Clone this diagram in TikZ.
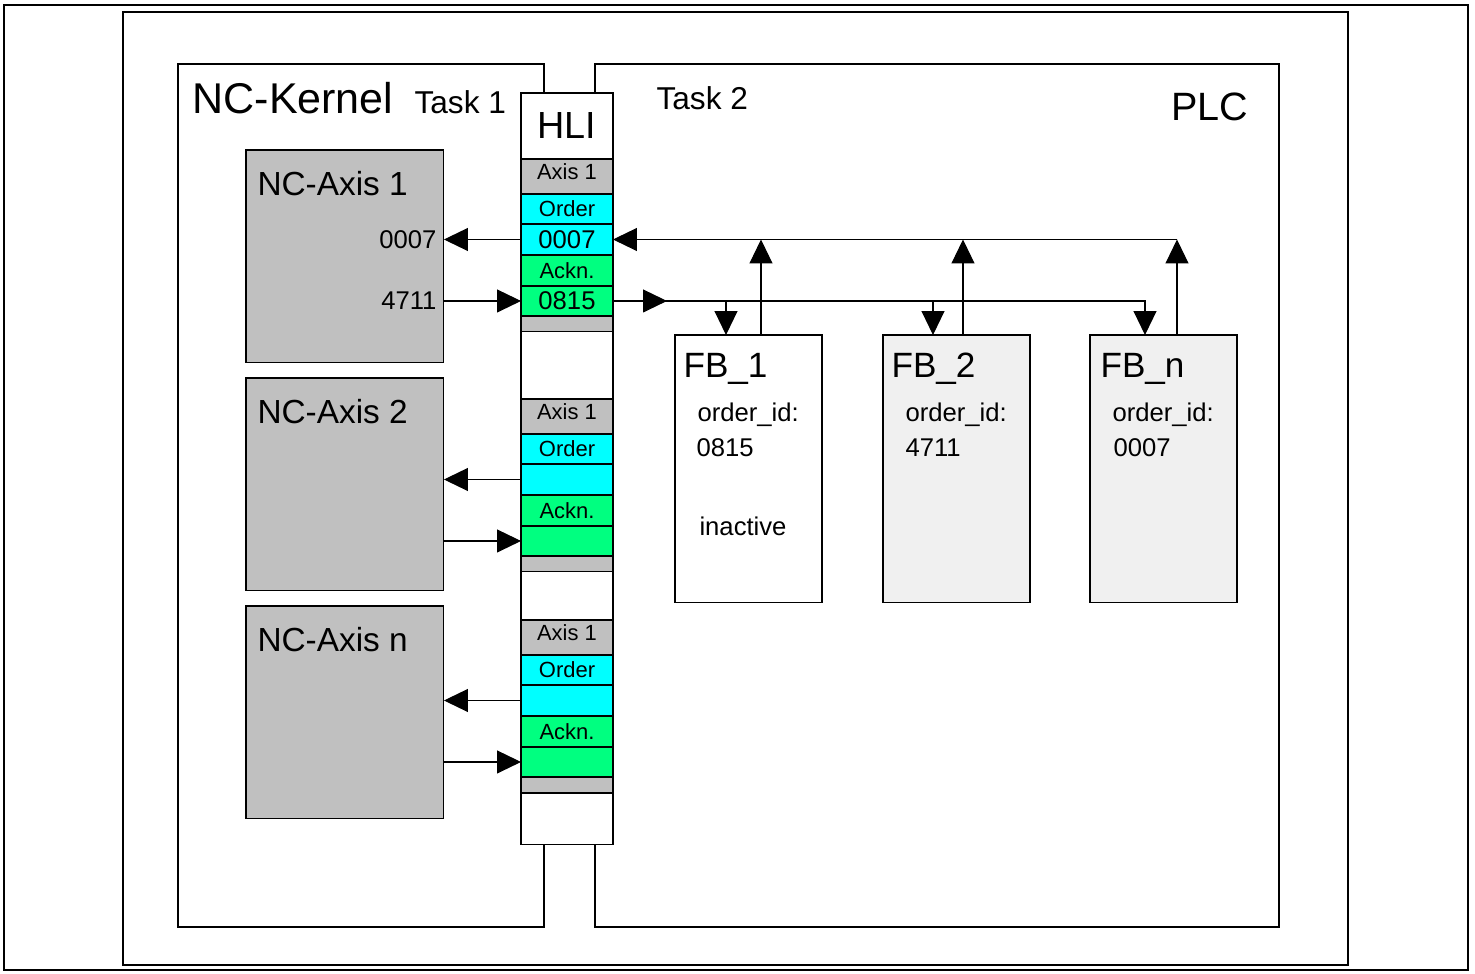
\documentclass[tikz,border=0pt]{standalone}
\usepackage{fontspec}
\setmainfont{Liberation Sans}
\usetikzlibrary{positioning,arrows.meta}
\definecolor{cAxis}{HTML}{C0C0C0}
\definecolor{cOrder}{HTML}{00FFFF}
\definecolor{cAckn}{HTML}{00FF80}
\definecolor{cFB}{HTML}{F0F0F0}
\tikzset{
  fsz/.style={font=\fontsize{#1}{#1}\selectfont},
  lbl/.style={anchor=base west, inner sep=0pt},
  box/.style={draw, inner sep=0pt, outer sep=0pt, anchor=north west},
  cell/.style={draw, inner sep=0pt, outer sep=0pt, minimum width=1.84cm, fsz=12.5},
  tip/.style={-{Triangle[length=0.48cm,width=0.46cm]}},
}

\begin{document}
\begin{tikzpicture}[x=0.02cm, y=-0.02cm, line width=0.6pt, font=\fontsize{14.6}{17}\selectfont]
        \useasboundingbox (0,0) rectangle (1475,974);
        % frames
        \draw[line width=1.4pt] (4,5) rectangle (1468,970);
        \draw (123,12) rectangle (1348,965);
        \draw (178,64) rectangle (544,927);
        \draw (595,64) rectangle (1279,927);
        \node[lbl, fsz=24.5] (kernel) at (192,113) {NC-Kernel};
        \node[lbl, fsz=18]   (task1)  at (414,113) {Task 1};
        \node[lbl, fsz=18]   (task2)  at (656,109) {Task 2};
        \node[lbl, fsz=22.5] (plc)    at (1171,120) {PLC};
        % HLI column
        \node[box, fill=white, minimum width=1.84cm, minimum height=15.04cm] (hli) at (521,93) {};
        \node[fsz=21.5, inner sep=0pt] (hlitxt) at (567,126) {HLI};
        \foreach \g/\t/\b/\vo/\va in {1/159/150/0007/0815, 2/399/378/{}/{}, n/620/606/{}/{}} {
          \node[cell, fill=cAxis, minimum height=0.7cm, anchor=north] (ax\g) at (567,\t) {};
          \node[fsz=12.5, inner sep=0pt, below=0.08cm of ax\g.north] (axt\g) {Axis 1};
          \node[cell, fill=cOrder, minimum height=0.6cm, below=0pt of ax\g] (ord\g) {Order};
          \node[cell, fill=cOrder, minimum height=0.62cm, below=0pt of ord\g, fsz=14.6] (ov\g) {\vo};
          \node[cell, fill=cAckn, minimum height=0.62cm, below=0pt of ov\g] (ack\g) {Ackn.};
          \node[cell, fill=cAckn, minimum height=0.6cm, below=0pt of ack\g, fsz=14.6] (av\g) {\va};
          \node[cell, fill=cAxis, minimum height=0.32cm, below=0pt of av\g] (end\g) {};
          % NC axis
          \node[box, fill=cAxis, minimum width=3.96cm, minimum height=4.26cm] (axis\g) at (246,\b) {};
          \node[lbl, fsz=19] (axist\g) at ([shift={(11,45)}]axis\g.north west) {NC-Axis \g};
          \draw[tip] (ov\g.west) -- (axis\g.east |- ov\g.west);
          \draw[tip] (axis\g.east |- av\g.west) -- (av\g.west);
        }
        \node[anchor=base east, inner sep=0pt] (axv1) at (437,248) {0007};
        \node[anchor=base east, inner sep=0pt] (axa1) at (437,309) {4711};
        % function blocks
        \node[box, minimum width=2.94cm, minimum height=5.36cm] (fb1) at (675,335) {};
        \node[box, fill=cFB, minimum width=2.94cm, minimum height=5.36cm] (fb2) at (883,335) {};
        \node[box, fill=cFB, minimum width=2.94cm, minimum height=5.36cm] (fbn) at (1090,335) {};
        \node[lbl, fsz=20] (fbt1) at (683,377) {FB\_1};
        \node[lbl] (fbo1) at (697,421) {order\_id:};
        \node[lbl] (fbi1) at (696,456) {0815};
        \node[lbl] (fbs1) at (699,535) {inactive};
        \node[lbl, fsz=20] (fbt2) at (891,377) {FB\_2};
        \node[lbl] (fbo2) at (905,421) {order\_id:};
        \node[lbl] (fbi2) at (905,456) {4711};
        \node[lbl, fsz=20] (fbtn) at (1100,377) {FB\_n};
        \node[lbl] (fbon) at (1112,421) {order\_id:};
        \node[lbl] (fbin) at (1113,456) {0007};
        % order lines
        \draw[tip] (1177,0 |- ov1.east) -- (ov1.east);
        \draw[tip] (761,0 |- fb1.north) -- (761,0 |- ov1.east);
        \draw[tip] (963,0 |- fb2.north) -- (963,0 |- ov1.east);
        \draw[tip] (1177,0 |- fbn.north) -- (1177,0 |- ov1.east);
        % acknowledge lines
        \draw[tip] (av1.east) -| (1145,0 |- fbn.north);
        \draw[tip] (av1.east) -- ++(54,0);
        \draw[tip] (726,0 |- av1.east) -- (726,0 |- fb1.north);
        \draw[tip] (933,0 |- av1.east) -- (933,0 |- fb2.north);
      \end{tikzpicture}
\end{document}
